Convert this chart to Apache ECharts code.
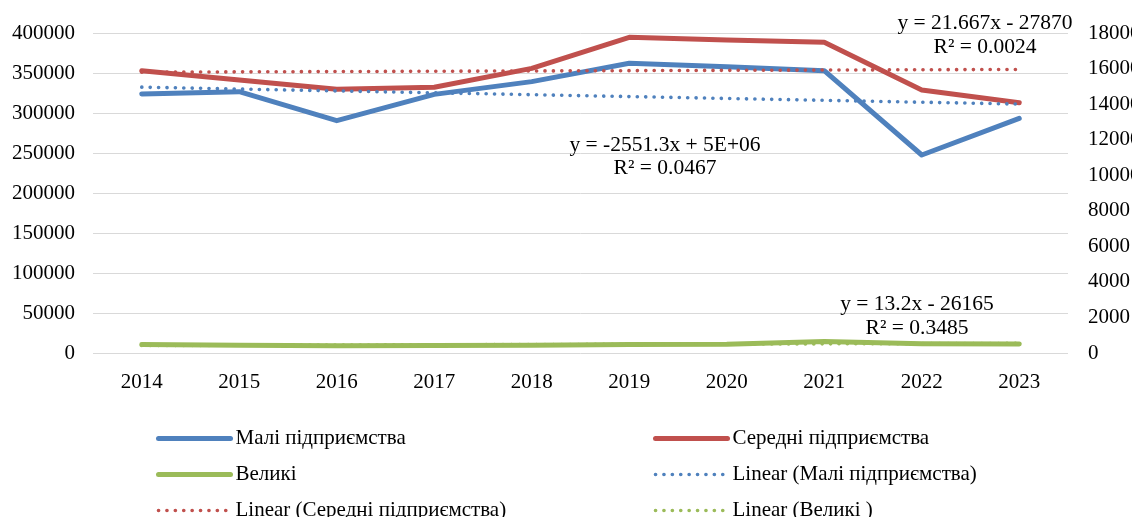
<!DOCTYPE html>
<html>
<head>
<meta charset="utf-8">
<script src="https://cdn.jsdelivr.net/npm/echarts@6/dist/echarts.min.js"></script>
<style>html,body{margin:0;padding:0;background:#fff;}#c{width:1132px;height:517px;}</style>
</head>
<body>
<div id="c"></div>
<script>
const years = ['2014','2015','2016','2017','2018','2019','2020','2021','2022','2023'];
const small = [323750, 326600, 290400, 323300, 339200, 362100, 357900, 352900, 247500, 293300];
const medium = [15881, 15356, 14831, 14944, 16012, 17756, 17606, 17475, 14794, 14081];
const large = [480, 440, 405, 420, 440, 480, 490, 640, 520, 500];
const seriesNames = ['Малі підприємства', 'Середні підприємства', 'Великі'];
const trendNames = ['Linear (Малі підприємства)', 'Linear (Середні підприємства)', 'Linear (Великі )'];
const eqSmall = ['y = -2551.3x + 5E+06', 'R² = 0.0467'];
const eqMedium = ['y = 21.667x - 27870', 'R² = 0.0024'];
const eqLarge = ['y = 13.2x - 26165', 'R² = 0.3485'];

function linFit(arr) {
  const n = arr.length;
  let sx = 0, sy = 0, sxx = 0, sxy = 0;
  arr.forEach((v, i) => { sx += i; sy += v; sxx += i * i; sxy += i * v; });
  const b = (n * sxy - sx * sy) / (n * sxx - sx * sx);
  const a = (sy - b * sx) / n;
  return arr.map((v, i) => a + b * i);
}

const FONT = '"Liberation Serif", "Times New Roman", serif';
const FS = 21;
const C_BLUE = '#4f81bd', C_RED = '#c0504d', C_GREEN = '#9bbb59';
const DOTS = [0.1, 8.3];

const chart = echarts.init(document.getElementById('c'), null, {renderer: 'canvas'});

function mainLine(name, data, color, axis) {
  return {
    name, type: 'line', data, yAxisIndex: axis, symbol: 'none', smooth: false,
    lineStyle: {color, width: 5, cap: 'round', join: 'round'},
    itemStyle: {color}, z: 2, animation: false
  };
}
function trendLine(name, data, color, axis) {
  return {
    name, type: 'line', data: linFit(data), yAxisIndex: axis, symbol: 'none',
    lineStyle: {color, width: 3.6, type: DOTS, cap: 'round'},
    itemStyle: {color}, z: 3, animation: false
  };
}
function eqText(lines, cx, y1, y2) {
  return lines.map((t, i) => ({
    type: 'text', x: cx, y: i === 0 ? y1 : y2, z: 100,
    style: {text: t, font: '21.5px ' + FONT, fill: '#000', align: 'center', verticalAlign: 'middle'}
  }));
}
function legItem(name, isTrend) {
  return {name, lineStyle: isTrend ? {width: 3.6, type: DOTS, cap: 'round'} : {width: 5, cap: 'round'}};
}

const legendCommon = {
  orient: 'vertical', itemWidth: 72, itemHeight: 20, itemGap: 15, height: 100, padding: 0,
  itemStyle: {opacity: 0},
  textStyle: {fontFamily: FONT, fontSize: FS, lineHeight: 20, color: '#000'}
};

const fmt = v => String(v);

chart.setOption({
  backgroundColor: '#fff',
  animation: false,
  grid: {left: 93, right: 64, top: 33, bottom: 164, containLabel: false, outerBoundsMode: 'none'},
  xAxis: {
    type: 'category', data: years, boundaryGap: true,
    axisLine: {show: false}, axisTick: {show: false},
    axisLabel: {fontFamily: FONT, fontSize: FS, color: '#000', margin: 19}
  },
  yAxis: [
    {type: 'value', min: 0, max: 400000, interval: 50000, position: 'left',
     axisLine: {show: false}, axisTick: {show: false},
     axisLabel: {fontFamily: FONT, fontSize: FS, color: '#000', margin: 18, formatter: fmt},
     splitLine: {lineStyle: {color: '#d9d9d9', width: 1}}},
    {type: 'value', min: 0, max: 18000, interval: 2000, position: 'right',
     axisLine: {show: false}, axisTick: {show: false},
     axisLabel: {fontFamily: FONT, fontSize: FS, color: '#000', margin: 20, formatter: fmt},
     splitLine: {show: false}}
  ],
  legend: [
    Object.assign({}, legendCommon, {left: 156, top: 428, data: [legItem(seriesNames[0]), legItem(seriesNames[2]), legItem(trendNames[1], true)]}),
    Object.assign({}, legendCommon, {left: 653, top: 428, data: [legItem(seriesNames[1]), legItem(trendNames[0], true), legItem(trendNames[2], true)]})
  ],
  series: [
    mainLine(seriesNames[0], small, C_BLUE, 0),
    mainLine(seriesNames[1], medium, C_RED, 1),
    mainLine(seriesNames[2], large, C_GREEN, 1),
    trendLine(trendNames[0], small, C_BLUE, 0),
    trendLine(trendNames[1], medium, C_RED, 1),
    trendLine(trendNames[2], large, C_GREEN, 1)
  ],
  graphic: [].concat(
    eqText(eqMedium, 985, 23, 47),
    eqText(eqSmall, 665, 145, 168),
    eqText(eqLarge, 917, 304, 328)
  )
});
</script>
</body>
</html>
